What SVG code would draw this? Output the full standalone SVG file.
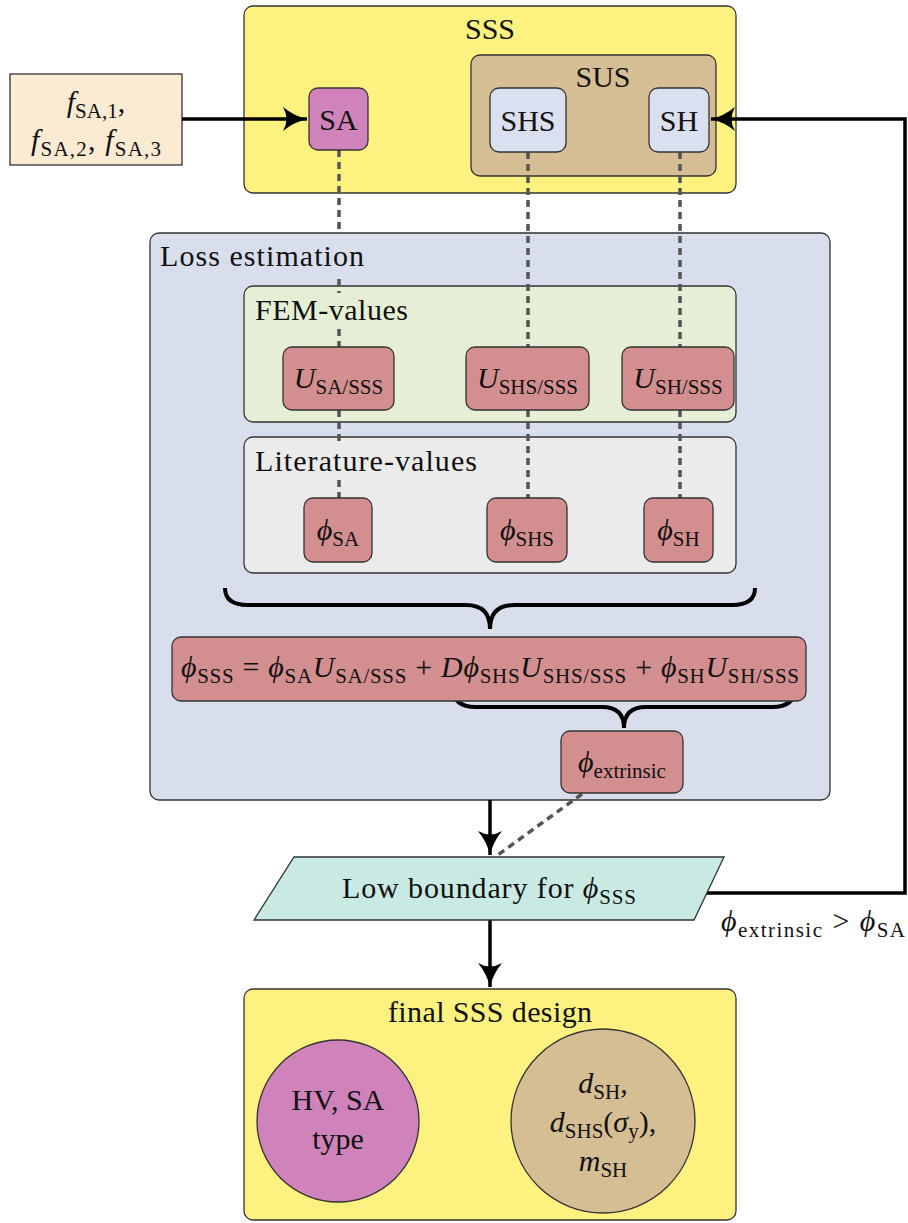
<svg xmlns="http://www.w3.org/2000/svg" width="908" height="1223" viewBox="0 0 908 1223">
<defs>
<style>
.t{font-family:'Liberation Serif','Times New Roman',serif;font-size:30px;fill:#111}
.m{text-anchor:middle}
.i{font-style:italic}
.s{font-size:21px}
.box{stroke:#333;stroke-width:1.3}
.dash{stroke:#555;stroke-width:3.5;stroke-dasharray:7 5;fill:none}
.arr{stroke:#000;stroke-width:3.5;fill:none}
.brace{stroke:#000;stroke-width:4;fill:none}
.red{fill:#d38f8f}
</style>
<marker id="ah" markerUnits="userSpaceOnUse" markerWidth="26" markerHeight="24" refX="24" refY="12" orient="auto">
<path d="M0,0 Q11,9 24,12 Q11,15 0,24 Q7,12 0,0 Z" fill="#000"/>
</marker>
</defs>

<g id="sss">
<rect class="box" x="244" y="6" width="492" height="187" rx="9" fill="#fdf180"/>
<text class="t m" x="490" y="39">SSS</text>
</g>
<g id="input">
<rect class="box" x="10" y="74" width="172" height="91" fill="#faebd2"/>
<text class="t m" x="96" y="112"><tspan class="i">f</tspan><tspan dy="6" class="s">SA,1</tspan><tspan dy="-6">,</tspan></text>
<text class="t m" x="96" y="150" textLength="130"><tspan class="i">f</tspan><tspan dy="6" class="s">SA,2</tspan><tspan dy="-6">,  </tspan><tspan class="i">f</tspan><tspan dy="6" class="s">SA,3</tspan></text>
</g>
<g id="sus">
<rect class="box" x="471" y="55" width="245" height="121" rx="9" fill="#d5be94"/>
<text class="t m" x="603" y="87">SUS</text>
</g>
<g id="loss">
<rect class="box" x="150" y="233" width="680" height="567" rx="9" fill="#d9deed"/>
<text class="t" x="160" y="266" textLength="204">Loss estimation</text>
</g>
<g id="fem">
<rect class="box" x="244" y="286" width="492" height="136" rx="9" fill="#e6efd6"/>
<text class="t" x="255" y="320" textLength="153">FEM-values</text>
</g>
<g id="lit">
<rect class="box" x="244" y="437" width="492" height="136" rx="9" fill="#ebebeb"/>
<text class="t" x="255" y="471" textLength="222">Literature-values</text>
</g>
<g id="final">
<rect class="box" x="244" y="989" width="492" height="231" rx="9" fill="#fdf180"/>
<text class="t m" x="490" y="1022" textLength="204">final SSS design</text>
</g>

<g id="connectors">
<path class="dash" d="M339,150 V234 M339,279 V293 M339,329 V347 M339,410 V446 M339,480 V498"/>
<path class="dash" d="M528,152 V347 M528,410 V498"/>
<path class="dash" d="M680,152 V347 M680,410 V498"/>
<path class="dash" d="M582,794 L495,857"/>
<path class="arr" d="M182,119 H307" marker-end="url(#ah)"/>
<path class="arr" d="M704,893 H905 V119 H711" marker-end="url(#ah)"/>
<path class="arr" d="M490,800 V855" marker-end="url(#ah)"/>
<path class="arr" d="M490,920 V987" marker-end="url(#ah)"/>
<path class="brace" d="M225,588 Q225,605 248,605 H466 Q490,605 490,629 Q490,605 514,605 H732 Q755,605 755,588"/>
<path class="brace" d="M453,688 Q453,707 476,707 H602 Q624,707 624,728 Q624,707 646,707 H772 Q795,707 795,688"/>
</g>

<g id="sa">
<rect class="box" x="309" y="88" width="59" height="62" rx="9" fill="#d083bb"/>
<text class="t m" x="338.5" y="130">SA</text>
</g>
<g id="shs">
<rect class="box" x="490" y="88" width="76" height="64" rx="9" fill="#dbe0f0"/>
<text class="t m" x="528" y="131">SHS</text>
</g>
<g id="sh">
<rect class="box" x="649" y="88" width="60" height="64" rx="9" fill="#dbe0f0"/>
<text class="t m" x="679" y="131">SH</text>
</g>

<g id="u_sa">
<rect class="box red" x="283" y="347" width="111" height="63" rx="9"/>
<text class="t m" x="338.5" y="388"><tspan class="i">U</tspan><tspan dy="6" class="s">SA/SSS</tspan></text>
</g>
<g id="u_shs">
<rect class="box red" x="466" y="347" width="123" height="63" rx="9"/>
<text class="t m" x="527.5" y="388"><tspan class="i">U</tspan><tspan dy="6" class="s">SHS/SSS</tspan></text>
</g>
<g id="u_sh">
<rect class="box red" x="622" y="347" width="112" height="63" rx="9"/>
<text class="t m" x="678" y="388"><tspan class="i">U</tspan><tspan dy="6" class="s">SH/SSS</tspan></text>
</g>

<g id="phi_sa">
<rect class="box red" x="304" y="498" width="68" height="64" rx="9"/>
<text class="t m" x="338" y="540"><tspan class="i">ϕ</tspan><tspan dy="6" class="s">SA</tspan></text>
</g>
<g id="phi_shs">
<rect class="box red" x="487" y="498" width="80" height="64" rx="9"/>
<text class="t m" x="527" y="540"><tspan class="i">ϕ</tspan><tspan dy="6" class="s">SHS</tspan></text>
</g>
<g id="phi_sh">
<rect class="box red" x="644" y="498" width="69" height="64" rx="9"/>
<text class="t m" x="678.5" y="540"><tspan class="i">ϕ</tspan><tspan dy="6" class="s">SH</tspan></text>
</g>

<g id="formula">
<rect class="box red" x="172" y="637" width="634" height="64" rx="9"/>
<text class="t m" x="490" y="677" textLength="618"><tspan class="i">ϕ</tspan><tspan dy="6" class="s">SSS</tspan><tspan dy="-6"> = </tspan><tspan class="i">ϕ</tspan><tspan dy="6" class="s">SA</tspan><tspan dy="-6" class="i">U</tspan><tspan dy="6" class="s">SA/SSS</tspan><tspan dy="-6"> + </tspan><tspan class="i">Dϕ</tspan><tspan dy="6" class="s">SHS</tspan><tspan dy="-6" class="i">U</tspan><tspan dy="6" class="s">SHS/SSS</tspan><tspan dy="-6"> + </tspan><tspan class="i">ϕ</tspan><tspan dy="6" class="s">SH</tspan><tspan dy="-6" class="i">U</tspan><tspan dy="6" class="s">SH/SSS</tspan></text>
</g>

<g id="phi_ext">
<rect class="box red" x="561" y="731" width="122" height="62" rx="9"/>
<text class="t m" x="622" y="772"><tspan class="i">ϕ</tspan><tspan dy="6" class="s">extrinsic</tspan></text>
</g>

<g id="low">
<polygon class="box" points="294,857 724,857 694,920 254,920" fill="#c9eae3"/>
<text class="t m" x="489" y="898" textLength="294">Low boundary for <tspan class="i">ϕ</tspan><tspan dy="6" class="s">SSS</tspan></text>
</g>
<text class="t" x="721" y="931" textLength="184"><tspan class="i">ϕ</tspan><tspan dy="6" class="s">extrinsic</tspan><tspan dy="-6"> &gt; </tspan><tspan class="i">ϕ</tspan><tspan dy="6" class="s">SA</tspan></text>

<g id="hv">
<circle class="box" cx="338" cy="1121" r="81" fill="#d083bb"/>
<text class="t m" x="338" y="1110">HV, SA</text>
<text class="t m" x="338" y="1149">type</text>
</g>
<g id="dims">
<circle class="box" cx="603" cy="1121" r="92" fill="#d5be94"/>
<text class="t m" x="603" y="1093"><tspan class="i">d</tspan><tspan dy="6" class="s">SH</tspan><tspan dy="-6">,</tspan></text>
<text class="t m" x="603" y="1132"><tspan class="i">d</tspan><tspan dy="6" class="s">SHS</tspan><tspan dy="-6">(</tspan><tspan class="i">σ</tspan><tspan dy="6" class="s">y</tspan><tspan dy="-6">),</tspan></text>
<text class="t m" x="603" y="1171"><tspan class="i">m</tspan><tspan dy="6" class="s">SH</tspan></text>
</g>
</svg>
